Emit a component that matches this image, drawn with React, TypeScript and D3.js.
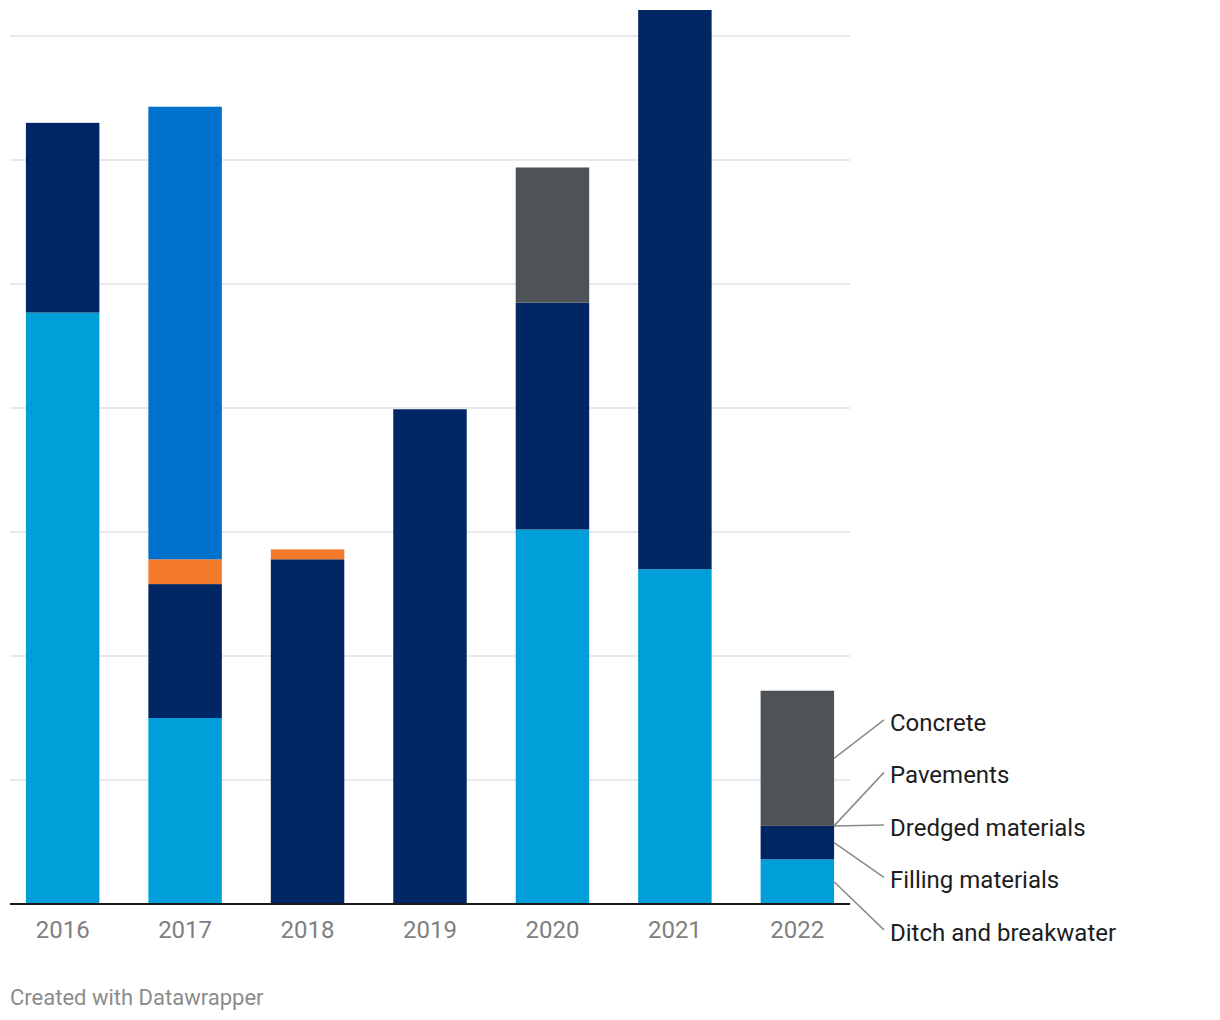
import React from "react";
import * as d3 from "d3";

const years = ["2016", "2017", "2018", "2019", "2020", "2021", "2022"];
const seriesNames = ["Ditch and breakwater", "Filling materials", "Dredged materials", "Pavements", "Concrete"];
const seriesColors = ["#009fda", "#002664", "#f47b2d", "#0072ce", "#4e5357"];

const ditch = [477, 150, 0, 0, 302, 270, 36];
const filling = [153, 108, 278, 399, 183, 451, 27];
const dredged = [0, 20, 8, 0, 0, 0, 0];
const pavements = [0, 365, 0, 0, 0, 0, 0];
const concrete = [0, 0, 0, 0, 109, 0, 109];

const gridTicks = [0, 100, 200, 300, 400, 500, 600, 700];

const W = 1220;
const H = 1020;
const left = 10;
const right = 850;
const baseY = 904;
const topY = 10;
const yMax = 721;

export default function App() {
  const rows = years.map((y, i) => ({
    year: y,
    "Ditch and breakwater": ditch[i],
    "Filling materials": filling[i],
    "Dredged materials": dredged[i],
    Pavements: pavements[i],
    Concrete: concrete[i],
  }));
  const stack = d3.stack<any>().keys(seriesNames)(rows);
  const x = d3.scaleBand().domain(years).range([left, right]).paddingInner(0.4).paddingOuter(0.13);
  const y = d3.scaleLinear().domain([0, yMax]).range([baseY, topY]);

  const last = years.length - 1;
  const targets = stack.map((s, k) => ({
    k,
    anchor: y((s[last][0] + s[last][1]) / 2),
    pos: y((s[last][0] + s[last][1]) / 2),
  }));
  const ordered = [...targets].sort((a, b) => b.k - a.k);
  const gap = 52.5;
  let clusters = ordered.map((t) => ({ items: [t], center: t.anchor }));
  let changed = true;
  const place = (c: any) => {
    const n = c.items.length;
    c.items.forEach((it: any, i: number) => {
      it.pos = c.center + (i - (n - 1) / 2) * gap;
    });
  };
  clusters.forEach(place);
  while (changed) {
    changed = false;
    for (let i = 0; i < clusters.length - 1; i++) {
      const a = clusters[i];
      const b = clusters[i + 1];
      const aBottom = a.items[a.items.length - 1].pos;
      const bTop = b.items[0].pos;
      if (bTop - aBottom < gap) {
        const items = [...a.items, ...b.items];
        const center = d3.mean(items, (it: any) => it.anchor) as number;
        const merged = { items, center };
        place(merged);
        clusters.splice(i, 2, merged);
        changed = true;
        break;
      }
    }
  }

  const barRight = (x(years[last]) as number) + x.bandwidth();
  const labelX = 890;

  return (
    <svg width={W} height={H} style={{ position: "absolute", left: 0, top: 0, fontFamily: "Roboto, sans-serif" }}>
      <rect width={W} height={H} fill="#fff" />
      {gridTicks.slice(1).map((t) => (
        <line key={t} x1={left} x2={right} y1={y(t)} y2={y(t)} stroke="#e3e3e3" strokeWidth={1.5} />
      ))}
      {stack.map((s, k) => (
        <g key={k} fill={seriesColors[k]}>
          {s.map((d, i) =>
            d[1] - d[0] > 0 ? (
              <rect
                key={i}
                x={x(years[i])}
                width={x.bandwidth()}
                y={y(d[1])}
                height={y(d[0]) - y(d[1])}
              />
            ) : null
          )}
        </g>
      ))}
      <line x1={left} x2={right} y1={baseY} y2={baseY} stroke="#1a1a1a" strokeWidth={2} />
      {years.map((yr) => (
        <text
          key={yr}
          x={(x(yr) as number) + x.bandwidth() / 2}
          y={930}
          textAnchor="middle"
          dominantBaseline="central"
          fontSize={24}
          fill="#7f7f7f"
        >
          {yr}
        </text>
      ))}
      {targets.map((t) => (
        <g key={t.k}>
          <line x1={barRight} y1={t.anchor} x2={labelX - 6} y2={t.pos - 2} stroke="#8a8a8a" strokeWidth={1.5} />
          <text x={labelX} y={t.pos + 1} dominantBaseline="central" fontSize={24} fill="#1d1d1d">
            {seriesNames[t.k]}
          </text>
        </g>
      ))}
      <text x={10} y={997} dominantBaseline="central" fontSize={22} fill="#8c8c8c">
        Created with Datawrapper
      </text>
    </svg>
  );
}
